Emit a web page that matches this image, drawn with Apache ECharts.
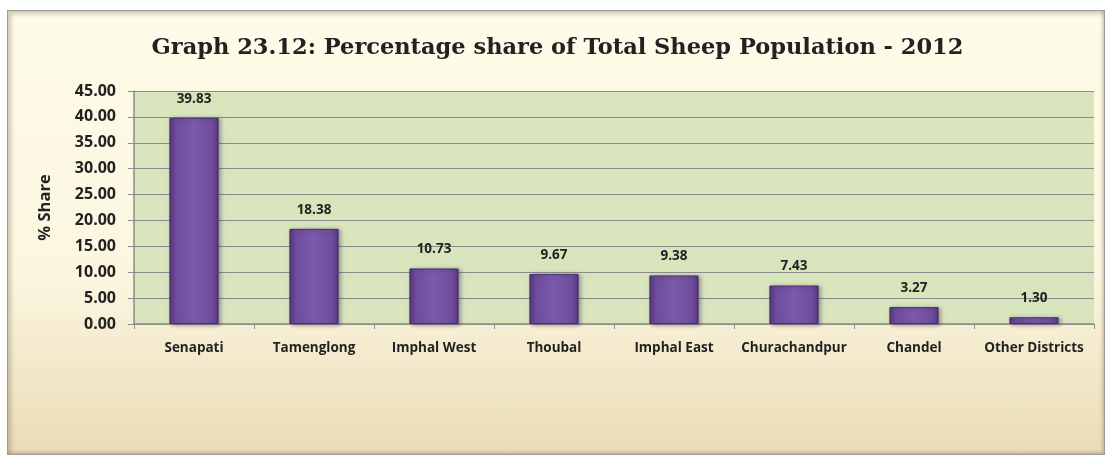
<!DOCTYPE html>
<html>
<head>
<meta charset="utf-8">
<script src="https://cdn.jsdelivr.net/npm/echarts@6/dist/echarts.min.js"></script>
<style>
  html, body { margin: 0; padding: 0; background: #ffffff; }
  .frame {
    position: absolute;
    left: 7px; top: 10px; width: 1096px; height: 443px;
    border: 1px solid #9a9a9a;
    box-shadow: inset 3px 3px 4px rgba(120, 110, 80, 0.35), inset -2px -2px 3px rgba(120, 110, 80, 0.3);
    background: linear-gradient(to bottom, #fefbe8 0%, #fcf6e0 60%, #e9dbb5 100%);
  }
  #chart { position: absolute; left: 0; top: 0; width: 1115px; height: 463px; }
</style>
</head>
<body>
<div class="frame"></div>
<div id="chart"></div>
<script>
// 区县与占比
const districts = ['Senapati', 'Tamenglong', 'Imphal West', 'Thoubal', 'Imphal East', 'Churachandpur', 'Chandel', 'Other Districts']
const shares = [39.83, 18.38, 10.73, 9.67, 9.38, 7.43, 3.27, 1.30]

const chart = echarts.init(document.getElementById('chart'))

const option = {
  backgroundColor: 'transparent',
  animation: false,
  title: {
    text: 'Graph 23.12: Percentage share of Total Sheep Population - 2012',
    left: 'center',
    top: 32,
    textStyle: {
      fontFamily: 'DejaVu Serif',
      fontWeight: 'bold',
      fontSize: 22.5,
      color: '#222222'
    }
  },
  grid: {
    left: 134,
    right: 21,
    top: 91,
    bottom: 139,
    show: true,
    backgroundColor: '#d8e4bc',
    borderWidth: 0
  },
  xAxis: {
    type: 'category',
    data: districts,
    axisLine: { lineStyle: { color: '#8c8c8c', width: 1.5 } },
    axisTick: { show: true, length: 5, lineStyle: { color: '#8c8c8c' } },
    axisLabel: {
      interval: 0,
      margin: 17,
      color: '#222222',
      fontFamily: 'Open Sans',
      fontWeight: 'bold',
      fontSize: 13.5
    }
  },
  yAxis: {
    type: 'value',
    min: 0,
    max: 45,
    interval: 5,
    name: '% Share',
    nameLocation: 'middle',
    nameGap: 80,
    nameTextStyle: {
      color: '#222222',
      fontFamily: 'Open Sans',
      fontWeight: 'bold',
      fontSize: 16.5
    },
    axisLine: { show: true, lineStyle: { color: '#8c8c8c', width: 1.5 } },
    axisTick: { show: true, length: 6, lineStyle: { color: '#8c8c8c' } },
    splitLine: { lineStyle: { color: '#8c8c8c', width: 1.2 } },
    axisLabel: {
      margin: 18,
      color: '#222222',
      fontFamily: 'Open Sans',
      fontWeight: 'bold',
      fontSize: 16,
      formatter: v => v.toFixed(2)
    }
  },
  series: [
    {
      type: 'bar',
      data: shares,
      barWidth: '41%',
      itemStyle: {
        color: new echarts.graphic.LinearGradient(0, 0, 1, 0, [
          { offset: 0, color: '#533679' },
          { offset: 0.12, color: '#6d4c9c' },
          { offset: 0.5, color: '#7c5aab' },
          { offset: 0.88, color: '#6d4c9c' },
          { offset: 1, color: '#533679' }
        ]),
        borderColor: '#48306c',
        borderWidth: 1,
        shadowColor: 'rgba(60, 40, 80, 0.45)',
        shadowBlur: 4,
        shadowOffsetX: 2,
        shadowOffsetY: 1
      },
      label: {
        show: true,
        position: 'top',
        distance: 12,
        color: '#222222',
        fontFamily: 'Open Sans',
        fontWeight: 'bold',
        fontSize: 13.5,
        formatter: p => p.value.toFixed(2)
      }
    }
  ]
}

chart.setOption(option)
</script>
</body>
</html>
